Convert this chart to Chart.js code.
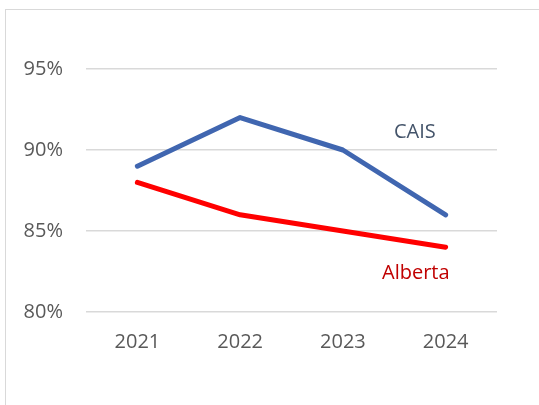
<!DOCTYPE html>
<html>
<head>
<meta charset="utf-8">
<title>CAIS vs Alberta</title>
<script src="https://cdn.jsdelivr.net/npm/chart.js@4"></script>
<style>
    html, body { margin: 0; padding: 0; background: #ffffff; }
    #wrap { position: relative; width: 539px; height: 405px; overflow: hidden; }
    #frame {
        position: absolute; left: 5px; top: 9px; width: 600px; height: 500px;
        border-top: 1.5px solid #d9d9d9; border-left: 1.5px solid #d9d9d9;
    }
    #chart { position: absolute; left: 0; top: 0; }
</style>
</head>
<body>
<div id="wrap">
    <div id="frame"></div>
    <canvas id="chart" width="539" height="405"></canvas>
</div>
<script>
// Data grafik
const years = ['2021', '2022', '2023', '2024'];
const caisValues = [89, 92, 90, 86];
const albertaValues = [88, 86, 85, 84];
const yTicks = [80, 85, 90, 95];

// Label seri langsung di grafik (posisi dalam satuan data)
const seriesLabels = [
    { text: 'CAIS', index: 2.7, value: 91.1, color: '#44546A' },
    { text: 'Alberta', index: 2.71, value: 82.4, color: '#C00000' }
];

const fontFamily = "'Open Sans', 'Liberation Sans', sans-serif";

// Plugin untuk menggambar label seri
const seriesLabelPlugin = {
    id: 'seriesLabels',
    afterDatasetsDraw(chart) {
        const ctx = chart.ctx;
        const xs = chart.scales.x;
        const ys = chart.scales.y;
        ctx.save();
        ctx.font = '20px ' + fontFamily;
        ctx.textAlign = 'center';
        ctx.textBaseline = 'middle';
        seriesLabels.forEach(lbl => {
            const i0 = Math.floor(lbl.index);
            const frac = lbl.index - i0;
            const x = xs.getPixelForValue(i0) + frac * (xs.getPixelForValue(i0 + 1) - xs.getPixelForValue(i0));
            ctx.fillStyle = lbl.color;
            ctx.fillText(lbl.text, x, ys.getPixelForValue(lbl.value));
        });
        ctx.restore();
    }
};

const ctx = document.getElementById('chart').getContext('2d');
new Chart(ctx, {
    type: 'line',
    data: {
        labels: years,
        datasets: [
            { label: 'CAIS', data: caisValues, borderColor: '#4066B0', borderWidth: 5, pointRadius: 0, fill: false, tension: 0, borderCapStyle: 'round', borderJoinStyle: 'round' },
            { label: 'Alberta', data: albertaValues, borderColor: '#FF0000', borderWidth: 5, pointRadius: 0, fill: false, tension: 0, borderCapStyle: 'round', borderJoinStyle: 'round' }
        ]
    },
    options: {
        responsive: false,
        animation: false,
        layout: { padding: { top: 69, right: 42, bottom: 0, left: 0 } },
        plugins: { legend: { display: false }, tooltip: { enabled: false } },
        scales: {
            x: {
                offset: true,
                grid: { display: false, drawTicks: false },
                border: { display: false },
                ticks: { color: '#595959', font: { family: fontFamily, size: 20 }, padding: 18, maxRotation: 0 },
                afterFit(scale) { scale.height = 93; }
            },
            y: {
                min: 80,
                max: 95,
                afterBuildTicks(scale) { scale.ticks = yTicks.map(v => ({ value: v })); },
                grid: { color: '#d9d9d9', lineWidth: 1.5, drawTicks: false },
                border: { display: false },
                ticks: {
                    color: '#595959',
                    font: { family: fontFamily, size: 20 },
                    padding: 23,
                    callback: v => v + '%'
                },
                afterFit(scale) { scale.width = 86; }
            }
        }
    },
    plugins: [seriesLabelPlugin]
});
</script>
</body>
</html>
